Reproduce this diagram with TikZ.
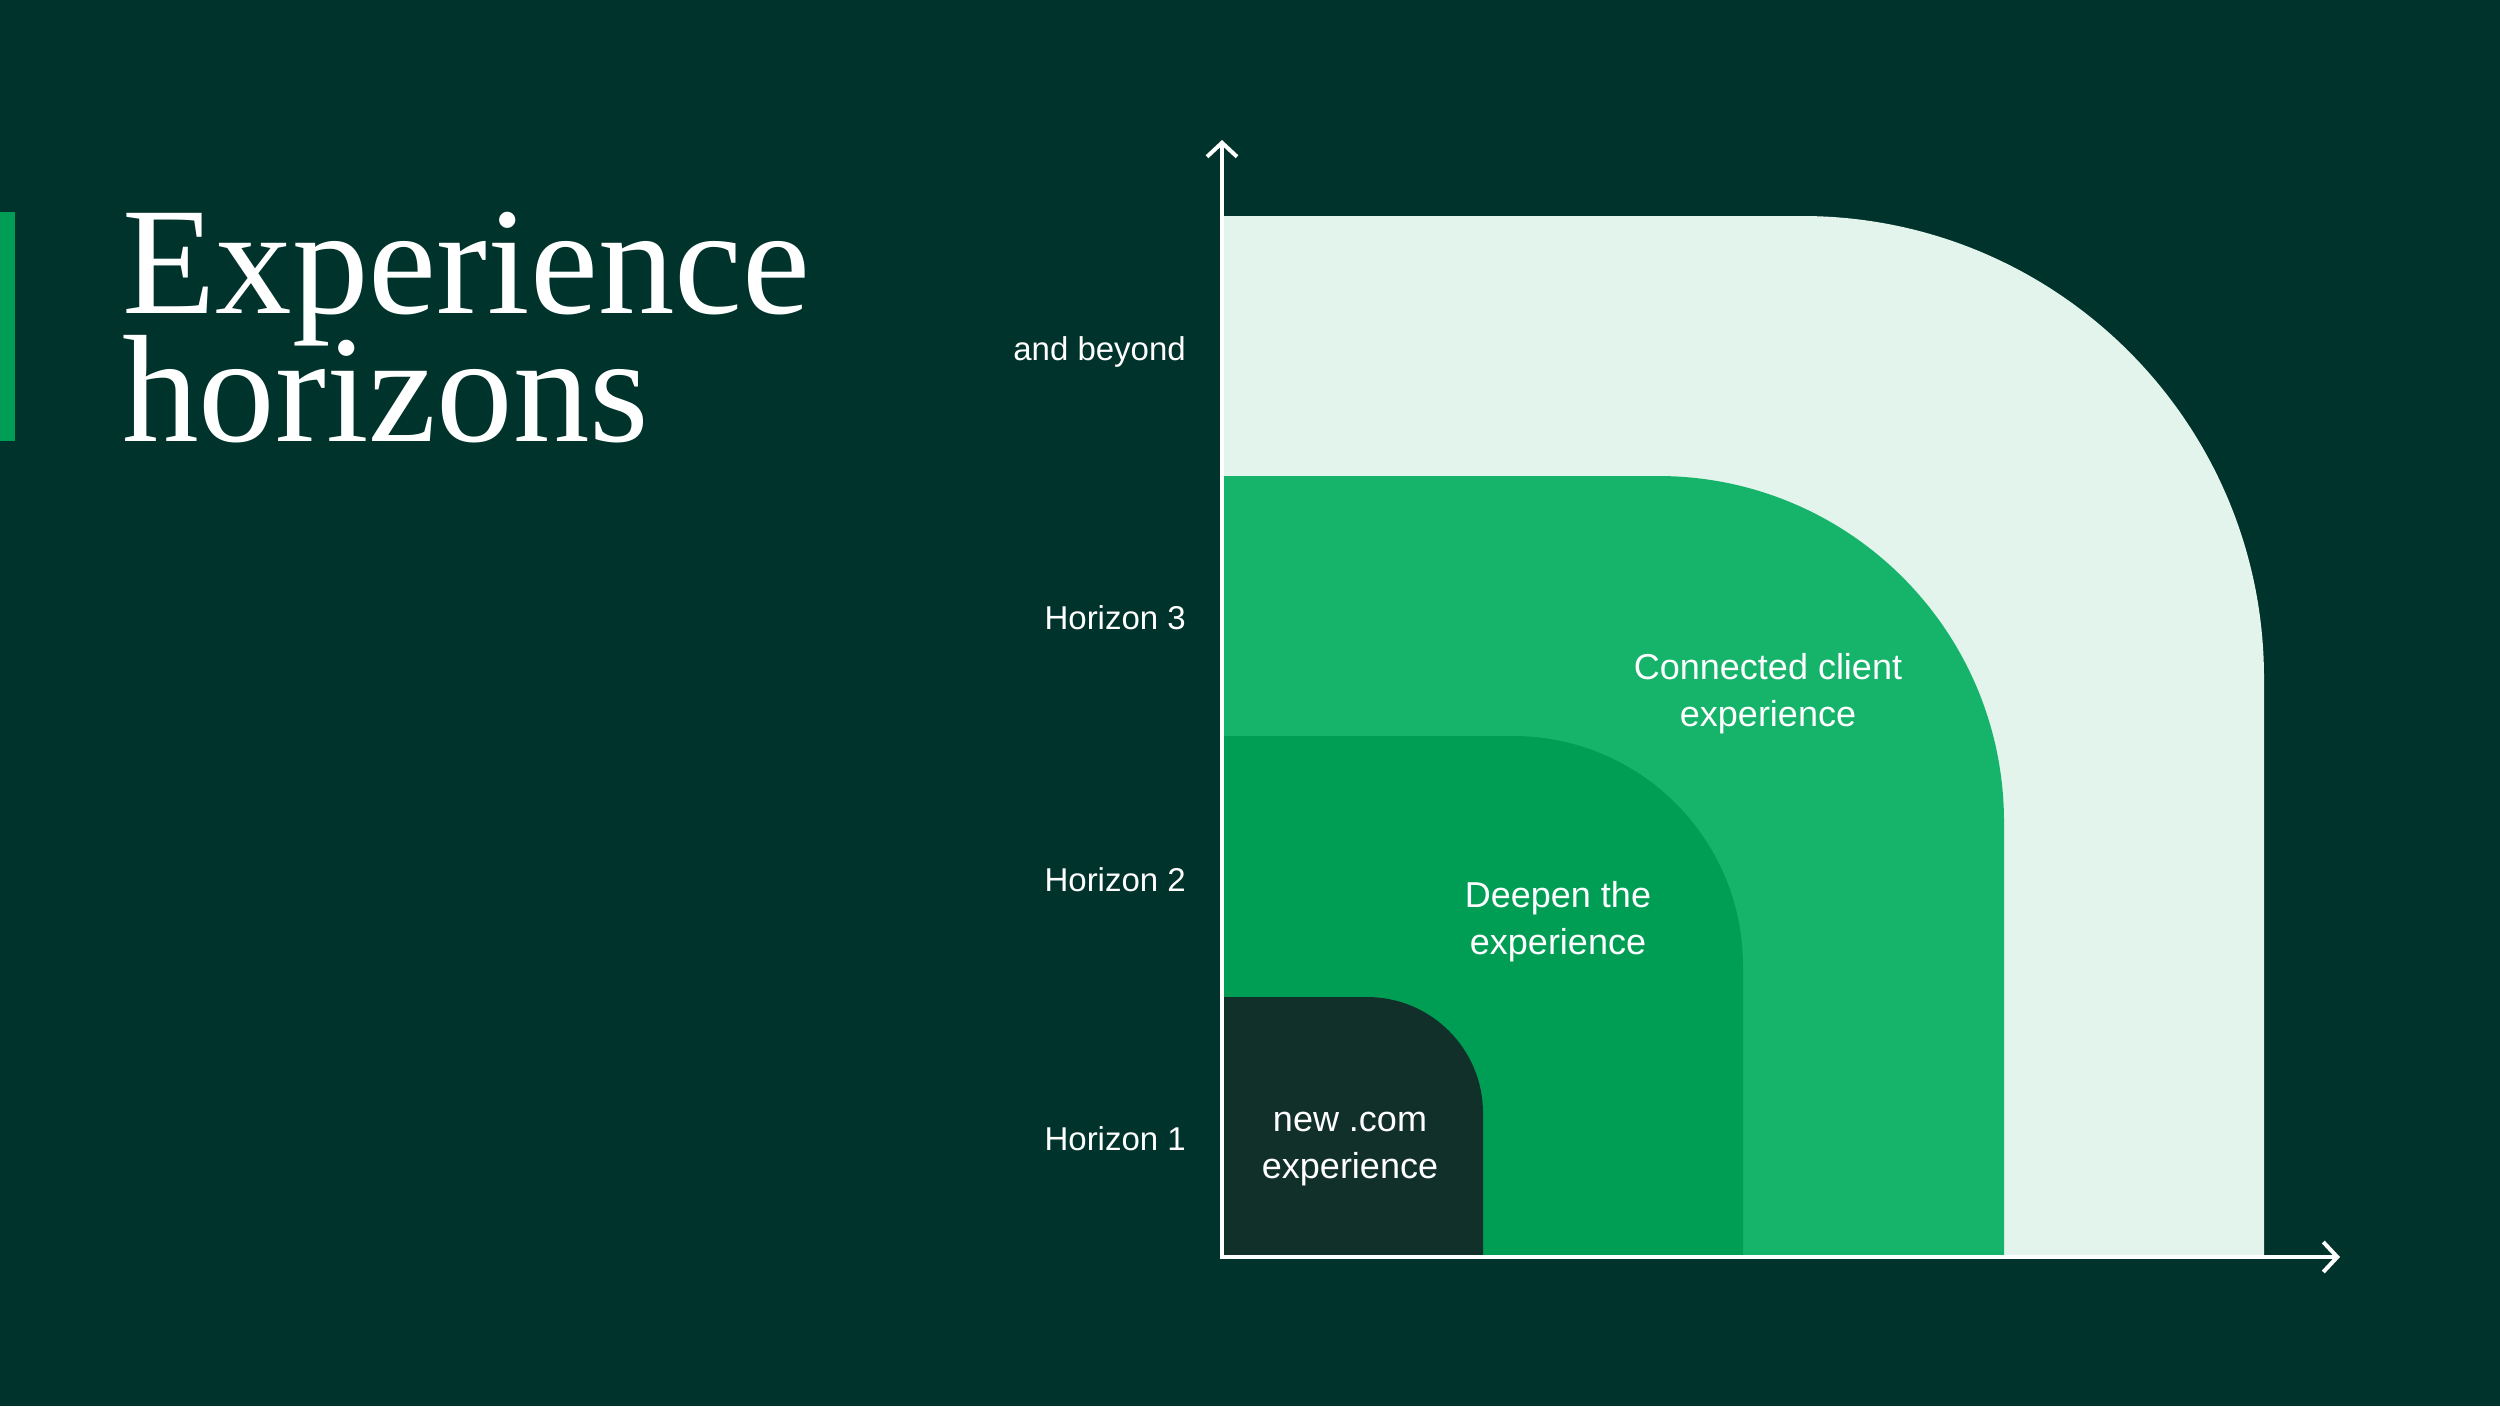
\documentclass[tikz,border=0pt]{standalone}
\usepackage{fontspec}
\setmainfont{Liberation Serif}
\newfontfamily\labfont{Liberation Sans}
\usetikzlibrary{arrows.meta}
\definecolor{bgc}{HTML}{00332B}
\definecolor{hzlight}{HTML}{E2F4EB}
\definecolor{hzmed}{HTML}{15B46A}
\definecolor{hzdark}{HTML}{009E55}
\definecolor{hzdeep}{HTML}{12302A}
\definecolor{barc}{HTML}{009E55}
\newcommand{\tightlines}{\lineskiplimit=-200pt\relax\lineskip=0pt\relax}
\tikzset{
  axisline/.style={draw=white, line width=4pt, -{Straight Barb[length=14pt,width=30pt]}},
  sidelab/.style={anchor=base east, text=white, inner sep=0pt, font=\labfont\fontsize{33}{40}\selectfont},
  innerlab/.style={text=white, inner sep=0pt, align=center, font=\labfont\fontsize{36}{47}\selectfont},
  titlelab/.style={anchor=base west, text=white, inner sep=0pt, align=left, font=\fontsize{153}{128}\selectfont\tightlines}
}
\newcommand{\hzshape}[4]{% color, top, right, radius
  \fill[#1] (1224,1257) -- (1224,#2) -- ({#3-#4},#2)
    .. controls ({#3-#4+0.5523*#4},#2) and (#3,{#2+#4-0.5523*#4}) .. (#3,{#2+#4})
    -- (#3,1257) -- cycle;}
\begin{document}
\begin{tikzpicture}[x=1pt,y=-1pt]
\useasboundingbox (0,0) rectangle (2500,1406);
\fill[bgc] (0,0) rectangle (2500,1406);
% left accent bar
\fill[barc] (0,212) rectangle (15,441);
% title (base anchor = baseline of last line)
\node[titlelab] (title) at (122,441) {Experience\\horizons};
% horizon shapes
\hzshape{hzlight}{216}{2264}{462}
\hzshape{hzmed}{476}{2004}{346}
\hzshape{hzdark}{736}{1743}{230}
\hzshape{hzdeep}{997}{1483}{116}
% axes
\coordinate (origin) at (1222,1259);
\coordinate (ytip) at (1222,140);
\coordinate (xtip) at (2340,1257);
\draw[axisline] (origin) -- (ytip);
\draw[axisline] ([xshift=-2pt]origin |- xtip) -- (xtip);
% side labels
\node[sidelab] (lb) at (1186,360) {and beyond};
\node[sidelab] (l3) at (1186,629) {Horizon 3};
\node[sidelab] (l2) at (1186,891) {Horizon 2};
\node[sidelab] (l1) at (1186,1150) {Horizon 1};
% inner labels
\node[innerlab] (c3) at (1768,694) {Connected client\\experience};
\node[innerlab] (c2) at (1558,922) {Deepen the\\experience};
\node[innerlab] (c1) at (1350,1149) {new .com\\experience};
\end{tikzpicture}
\end{document}
